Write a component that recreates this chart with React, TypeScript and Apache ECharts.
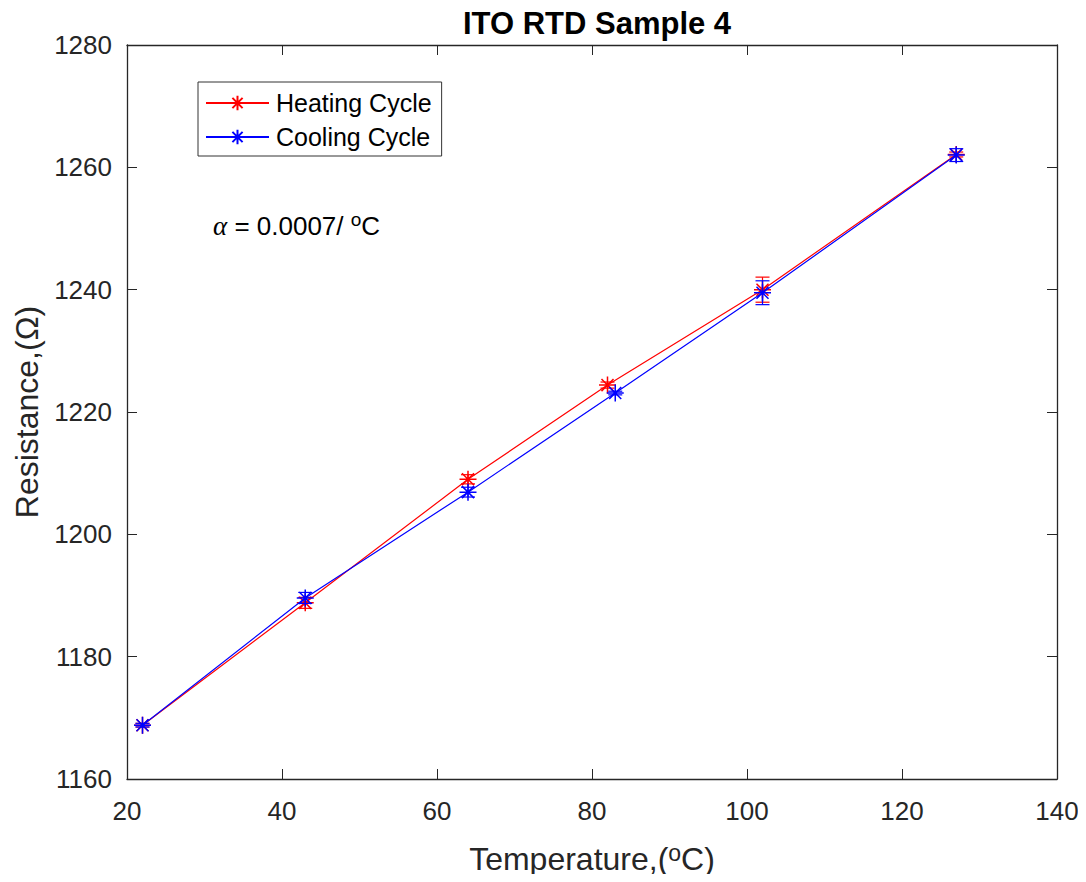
import React, { useEffect, useRef } from "react";
import * as echarts from "echarts";

const heatingT = [22, 43, 64, 82, 102, 127];
const heatingR = [1168.8, 1188.8, 1209.0, 1224.4, 1240.0, 1262.1];
const heatingErr = [0.3, 0.9, 0.75, 0.5, 2.05, 0.4];

const coolingT = [22, 43, 64, 83, 102, 127];
const coolingR = [1168.8, 1189.6, 1206.9, 1223.1, 1239.5, 1262.0];
const coolingErr = [0.3, 0.9, 0.8, 0.3, 1.95, 1.05];

const xTicks = { min: 20, max: 140, interval: 20 };
const yTicks = { min: 1160, max: 1280, interval: 20 };

const FONT = "'Liberation Sans', Arial, Helvetica, sans-serif";
const AX = "#262626";
const STAR = "path://M0,-10L0,10M-10,0L10,0M-7.07,-7.07L7.07,7.07M-7.07,7.07L7.07,-7.07";

function errSeries(name: string, xs: number[], ys: number[], es: number[], color: string, z: number) {
  return {
    type: "custom",
    name: name + "_err",
    z,
    silent: true,
    xAxisIndex: 0,
    yAxisIndex: 0,
    data: xs.map((x, i) => [x, ys[i], es[i]]),
    renderItem: (params: any, api: any) => {
      const x = api.value(0);
      const y = api.value(1);
      const e = api.value(2);
      const top = api.coord([x, y + e]);
      const bot = api.coord([x, y - e]);
      const w = 7;
      const st = { stroke: color, lineWidth: 1.2 };
      return {
        type: "group",
        children: [
          { type: "line", shape: { x1: top[0], y1: top[1], x2: bot[0], y2: bot[1] }, style: st },
          { type: "line", shape: { x1: top[0] - w, y1: top[1], x2: top[0] + w, y2: top[1] }, style: st },
          { type: "line", shape: { x1: bot[0] - w, y1: bot[1], x2: bot[0] + w, y2: bot[1] }, style: st },
        ],
      };
    },
  };
}

function lineSeries(name: string, xs: number[], ys: number[], color: string, z: number) {
  return {
    type: "line",
    name,
    z,
    xAxisIndex: 0,
    yAxisIndex: 0,
    data: xs.map((x, i) => [x, ys[i]]),
    symbol: STAR,
    symbolSize: 17,
    lineStyle: { color, width: 1.2 },
    itemStyle: { color, borderColor: color, borderWidth: 1.5 },
    emphasis: { disabled: true },
  };
}

export default function App() {
  const ref = useRef<HTMLDivElement>(null);
  useEffect(() => {
    if (!ref.current) return;
    const chart = echarts.init(ref.current, undefined, { renderer: "svg" });
    const axisCommon = {
      type: "value",
      axisLine: { show: true, onZero: false, lineStyle: { color: AX, width: 1.3 } },
      axisTick: { show: true, inside: true, length: 10, lineStyle: { color: AX, width: 1 } },
      splitLine: { show: false },
    };
    chart.setOption({
      animation: false,
      backgroundColor: "#ffffff",
      title: {
        text: "ITO RTD Sample 4",
        left: 592,
        textAlign: "center",
        top: 3,
        textStyle: { fontFamily: FONT, fontSize: 31, fontWeight: "bold", color: "#000" },
      },
      grid: { left: 127, right: 29, top: 45, bottom: 103, containLabel: false },
      legend: {
        left: 198,
        top: 82,
        orient: "vertical",
        data: ["Heating Cycle", "Cooling Cycle"],
        itemWidth: 63,
        itemHeight: 18,
        itemGap: 4,
        padding: [6, 10, 4, 7],
        borderColor: "#333",
        borderWidth: 1,
        backgroundColor: "#fff",
        selectedMode: false,
        textStyle: { fontFamily: FONT, fontSize: 25, color: "#000", lineHeight: 30, padding: [0, 0, 0, 2] },
      },
      xAxis: [
        {
          ...axisCommon,
          position: "bottom",
          min: xTicks.min,
          max: xTicks.max,
          interval: xTicks.interval,
          axisLabel: { color: AX, fontFamily: FONT, fontSize: 26, margin: 19 },
          name: "Temperature,({s|o}C)",
          nameLocation: "middle",
          nameGap: 62,
          nameTextStyle: {
            fontFamily: FONT,
            fontSize: 32,
            color: AX,
            lineHeight: 36,
            rich: { s: { fontFamily: FONT, fontSize: 23, color: AX, verticalAlign: "top", lineHeight: 36, padding: [0, 0, 12, 0] } },
          },
        },
        {
          ...axisCommon,
          position: "top",
          min: xTicks.min,
          max: xTicks.max,
          interval: xTicks.interval,
          axisLabel: { show: false },
        },
      ],
      yAxis: [
        {
          ...axisCommon,
          position: "left",
          min: yTicks.min,
          max: yTicks.max,
          interval: yTicks.interval,
          axisLabel: { color: AX, fontFamily: FONT, fontSize: 26, margin: 15, formatter: (v: number) => String(v) },
          name: "Resistance,(Ω)",
          nameLocation: "middle",
          nameGap: 82,
          nameTextStyle: { fontFamily: FONT, fontSize: 32, color: AX },
        },
        {
          ...axisCommon,
          position: "right",
          min: yTicks.min,
          max: yTicks.max,
          interval: yTicks.interval,
          axisLabel: { show: false },
        },
      ],
      graphic: [
        {
          type: "text",
          left: 213,
          top: 210,
          style: {
            text: "{a|α}{t| = 0.0007/ }{s|o}{t|C}",
            rich: {
              a: { fontFamily: "'Liberation Serif', 'Times New Roman', serif", fontStyle: "italic", fontSize: 27, fill: "#000", lineHeight: 32 },
              t: { fontFamily: FONT, fontSize: 26, fill: "#000", lineHeight: 32 },
              s: { fontFamily: FONT, fontSize: 19, fill: "#000", lineHeight: 32, verticalAlign: "top", padding: [0, 0, 12, 0] },
            },
          },
        },
      ],
      series: [
        lineSeries("Heating Cycle", heatingT, heatingR, "#ff0000", 2),
        errSeries("Heating Cycle", heatingT, heatingR, heatingErr, "#ff0000", 3),
        lineSeries("Cooling Cycle", coolingT, coolingR, "#0000ff", 4),
        errSeries("Cooling Cycle", coolingT, coolingR, coolingErr, "#0000ff", 5),
      ],
    });
    return () => chart.dispose();
  }, []);
  return <div ref={ref} style={{ width: 1086, height: 882, margin: -8 }} />;
}
